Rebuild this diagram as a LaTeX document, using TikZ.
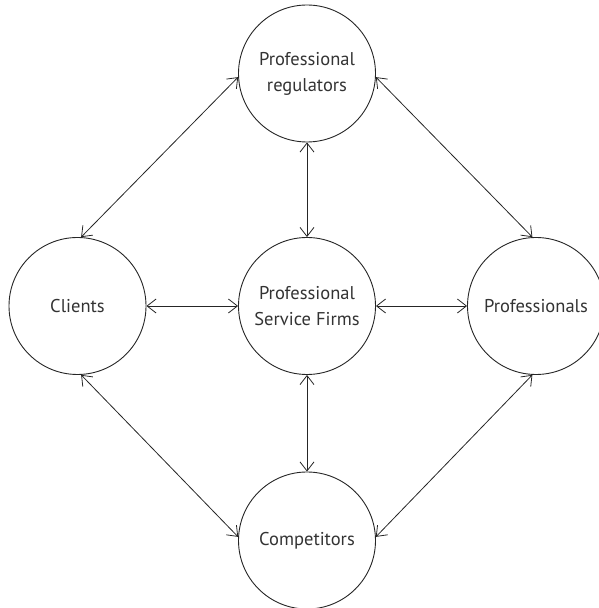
\documentclass[tikz,border=0pt]{standalone}
\usepackage{fontspec}
\setmainfont{PT Sans}
\usepackage{tikz}
\usetikzlibrary{
  arrows.meta
}

\begin{document}
\begin{tikzpicture}[x=1pt,y=1pt,every text node part/.style={align=center},
  party/.style={circle,draw=black!85,line width=0.9pt,minimum size=137pt,inner sep=0pt,
    text=black!80,font=\fontsize{18.5}{26}\selectfont},
  link/.style={{Straight Barb[length=9pt,width=14pt]}-{Straight Barb[length=9pt,width=14pt]},
    draw=black!85,line width=0.8pt}]
  \useasboundingbox (0,0) rectangle (598,608);
  \node[party] (0) at (307,302) {Professional\\Service Firms};
  \node[party] (1) at (307,534.5) {Professional\\regulators};
  \node[party] (2) at (77.5,302) {Clients};
  \node[party] (3) at (536,302) {Professionals};
  \node[party] (4) at (307,67.5) {Competitors};

  \draw[link] (2) -- (0);
  \draw[link] (0) -- (3);
  \draw[link] (1) -- (0);
  \draw[link] (0) -- (4);

  \draw[link] (1.183) -- (2.87);
  \draw[link] (1.357) -- (3.93);
  \draw[link] (2.273) -- (4.177);
  \draw[link] (3.267) -- (4.3);
\end{tikzpicture}
\end{document}
